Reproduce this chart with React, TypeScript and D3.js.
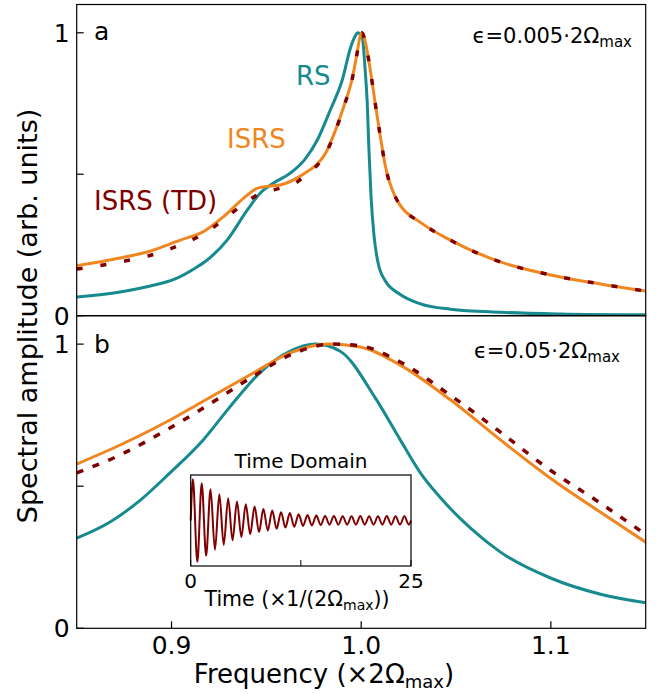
import React from 'react';
import * as d3 from 'd3';

const W = 665;
const H = 694;

// axis settings
const xDomain: [number, number] = [0.85, 1.15];
const yDomain: [number, number] = [0, 1.1];
const xTicks = [0.9, 1.0, 1.1];
const xTickLabels = ['0.9', '1.0', '1.1'];
const yTicks = [0, 0.5, 1];
const yTickLabels = ['0', '', '1'];

// Panel a (epsilon = 0.005)
const rsTopFreq = [0.85, 0.8729, 0.8887, 0.9019, 0.9124, 0.9188, 0.9293, 0.9399, 0.9467, 0.9536, 0.9626, 0.9700, 0.9768, 0.9837, 0.990, 0.9945, 0.997, 0.998, 1.0005, 1.0021, 1.0032, 1.0040, 1.0052, 1.0068, 1.0088, 1.0125, 1.0206, 1.0312, 1.047, 1.0734, 1.105, 1.15];
const rsTopAmp = [0.066, 0.084, 0.105, 0.13, 0.168, 0.197, 0.267, 0.373, 0.433, 0.468, 0.504, 0.55, 0.62, 0.727, 0.833, 0.95, 0.99, 1.0, 0.985, 0.868, 0.75, 0.6, 0.42, 0.28, 0.19, 0.125, 0.075, 0.042, 0.023, 0.012, 0.006, 0.003];

const isrsTopFreq = [0.85, 0.8729, 0.8887, 0.9046, 0.9168, 0.9274, 0.9379, 0.945, 0.9511, 0.9573, 0.9643, 0.9714, 0.9770, 0.9815, 0.9860, 0.9907, 0.9951, 0.9978, 0.9995, 1.0004, 1.0021, 1.0048, 1.0074, 1.0101, 1.0127, 1.018, 1.0206, 1.0312, 1.047, 1.0734, 1.0998, 1.1262, 1.15];
const isrsTopAmp = [0.177, 0.204, 0.228, 0.267, 0.297, 0.35, 0.415, 0.45, 0.458, 0.462, 0.48, 0.509, 0.537, 0.578, 0.648, 0.738, 0.833, 0.927, 0.99, 1.0, 0.97, 0.868, 0.75, 0.633, 0.53, 0.42, 0.39, 0.33, 0.267, 0.19, 0.144, 0.112, 0.087];

const tdTopFreq = [0.85, 0.8729, 0.8887, 0.9046, 0.9168, 0.928, 0.9395, 0.947, 0.9524, 0.958, 0.9656, 0.972, 0.9770, 0.9815, 0.9860, 0.9907, 0.9951, 0.9978, 0.9995, 1.0004, 1.0021, 1.0048, 1.0074, 1.0101, 1.0127, 1.018, 1.0206, 1.0312, 1.047, 1.0734, 1.0998, 1.1262, 1.15];
const tdTopAmp = [0.165, 0.19, 0.213, 0.25, 0.289, 0.342, 0.403, 0.432, 0.442, 0.452, 0.47, 0.505, 0.533, 0.575, 0.646, 0.736, 0.832, 0.926, 0.99, 1.0, 0.97, 0.868, 0.75, 0.633, 0.53, 0.42, 0.39, 0.33, 0.267, 0.19, 0.144, 0.112, 0.087];

// Panel b (epsilon = 0.05)
const rsBotFreq = [0.85, 0.8676, 0.8834, 0.8992, 0.9167, 0.9309, 0.9467, 0.9626, 0.9758, 0.9889, 1.0075, 1.0206, 1.0312, 1.0417, 1.0575, 1.0734, 1.0998, 1.1262, 1.15];
const rsBotAmp = [0.317, 0.374, 0.45, 0.547, 0.663, 0.78, 0.9, 0.975, 1.0, 0.975, 0.81, 0.663, 0.547, 0.46, 0.353, 0.268, 0.177, 0.12, 0.09];

const isrsBotFreq = [0.85, 0.8729, 0.8992, 0.9151, 0.9415, 0.9626, 0.9826, 0.9995, 1.0206, 1.047, 1.0734, 1.0998, 1.1262, 1.15];
const isrsBotAmp = [0.578, 0.645, 0.733, 0.793, 0.892, 0.969, 1.0, 0.99, 0.926, 0.804, 0.663, 0.528, 0.408, 0.303];

const tdBotFreq = [0.85, 0.8729, 0.8992, 0.9151, 0.9415, 0.9626, 0.985, 0.9995, 1.0206, 1.047, 1.0734, 1.0998, 1.1262, 1.15];
const tdBotAmp = [0.547, 0.61, 0.705, 0.768, 0.88, 0.962, 1.0, 0.994, 0.937, 0.82, 0.69, 0.556, 0.44, 0.33];

// Inset: time-domain signal, extrema of each half-cycle
const insetTimeDomain: [number, number] = [0, 25];
const insetValueDomain: [number, number] = [-1.1, 1.1];
const insetTicks = [0, 12.5, 25];
const insetTickLabels = ['0', '', '25'];
const insetPeriod = 1;
const insetPeaks = [1.0, 0.9, 0.755, 0.635, 0.54, 0.46, 0.39, 0.34, 0.28, 0.24, 0.2, 0.18, 0.15, 0.13, 0.12, 0.11, 0.11, 0.1, 0.1, 0.11, 0.1, 0.1, 0.11, 0.1, 0.1];
const insetTroughs = [-1.0, -0.85, -0.71, -0.59, -0.48, -0.4, -0.33, -0.28, -0.24, -0.2, -0.17, -0.15, -0.13, -0.12, -0.11, -0.1, -0.1, -0.1, -0.1, -0.1, -0.1, -0.1, -0.1, -0.1, -0.1];

// layout
const L = 76.7;
const R = 645.7;
const T1 = 4.5;
const B1 = 315.7;
const T2 = 315.7;
const B2 = 628.3;
const IL = 190.7;
const IR = 411;
const IT = 475;
const IB = 566;

const TEAL = '#178a8f';
const ORANGE = '#f0861f';
const DARKRED = '#7f0000';
const FONT = '"DejaVu Sans", sans-serif';

function zip(a: number[], b: number[]): [number, number][] {
  return a.map((v, i) => [v, b[i]]);
}

export default function App() {
  const x = d3.scaleLinear().domain(xDomain).range([L, R]);
  const yTop = d3.scaleLinear().domain(yDomain).range([B1, T1]);
  const yBot = d3.scaleLinear().domain(yDomain).range([B2, T2]);
  const mk = (ys: d3.ScaleLinear<number, number>) =>
    d3.line<[number, number]>().x(d => x(d[0])).y(d => ys(d[1])).curve(d3.curveMonotoneX);
  const lineTop = mk(yTop);
  const lineBot = mk(yBot);

  const xi = d3.scaleLinear().domain(insetTimeDomain).range([IL, IR]);
  const yi = d3.scaleLinear().domain(insetValueDomain).range([IB, IT]);
  const insetPts: [number, number][] = [[0, 0]];
  insetPeaks.forEach((p, k) => {
    insetPts.push([k * insetPeriod + 0.25 * insetPeriod, p]);
    insetPts.push([k * insetPeriod + 0.75 * insetPeriod, insetTroughs[k]]);
  });
  insetPts.push([25, 0]);
  const insetLine = d3.line<[number, number]>().x(d => xi(d[0])).y(d => yi(d[1])).curve(d3.curveMonotoneX);

  const yAxis = (ys: d3.ScaleLinear<number, number>, key: string) => (
    <g key={key}>
      {yTicks.map((t, i) => (
        <g key={i}>
          <line x1={L} x2={L + 7} y1={ys(t)} y2={ys(t)} stroke="#000" strokeWidth={1.2} />
          {yTickLabels[i] && (
            <text x={L - 7} y={ys(t)} dy="0.36em" textAnchor="end" fontSize={25} fontFamily={FONT}>{yTickLabels[i]}</text>
          )}
        </g>
      ))}
    </g>
  );

  return (
    <svg width={W} height={H} style={{ position: 'absolute', left: 0, top: 0, background: '#fff' }} fontFamily={FONT}>
      <defs>
        <clipPath id="clipTop"><rect x={L} y={T1} width={R - L} height={B1 - T1} /></clipPath>
        <clipPath id="clipBot"><rect x={L} y={T2} width={R - L} height={B2 - T2} /></clipPath>
      </defs>
      <rect x={0} y={0} width={W} height={H} fill="#fff" />

      {/* Panel a curves */}
      <g clipPath="url(#clipTop)" fill="none">
        <path d={lineTop(zip(rsTopFreq, rsTopAmp)) || ''} stroke={TEAL} strokeWidth={3} />
        <path d={lineTop(zip(isrsTopFreq, isrsTopAmp)) || ''} stroke={ORANGE} strokeWidth={3} />
        <path d={lineTop(zip(tdTopFreq, tdTopAmp)) || ''} stroke={DARKRED} strokeWidth={3.5} strokeDasharray="6 18" />
      </g>
      {/* Panel b curves */}
      <g clipPath="url(#clipBot)" fill="none">
        <path d={lineBot(zip(rsBotFreq, rsBotAmp)) || ''} stroke={TEAL} strokeWidth={3} />
        <path d={lineBot(zip(isrsBotFreq, isrsBotAmp)) || ''} stroke={ORANGE} strokeWidth={3} />
        <path d={lineBot(zip(tdBotFreq, tdBotAmp)) || ''} stroke={DARKRED} strokeWidth={3.5} strokeDasharray="7 10" />
      </g>

      {/* frames */}
      <rect x={L} y={T1} width={R - L} height={B1 - T1} fill="none" stroke="#000" strokeWidth={1.2} />
      <rect x={L} y={T2} width={R - L} height={B2 - T2} fill="none" stroke="#000" strokeWidth={1.2} />

      {yAxis(yTop, 'ya')}
      {yAxis(yBot, 'yb')}

      {xTicks.map((t, i) => (
        <g key={i}>
          <line x1={x(t)} x2={x(t)} y1={B2} y2={B2 - 7} stroke="#000" strokeWidth={1.2} />
          <text x={x(t)} y={654} textAnchor="middle" fontSize={25}>{xTickLabels[i]}</text>
        </g>
      ))}

      {/* axis labels */}
      <text x={324} y={683} textAnchor="middle" fontSize={26}>
        Frequency (×2Ω<tspan fontSize={18} dy={5}>max</tspan><tspan dy={-5}>)</tspan>
      </text>
      <text transform="translate(37,316) rotate(-90)" textAnchor="middle" fontSize={27}>Spectral amplitude (arb. units)</text>

      {/* panel letters */}
      <text x={94} y={40} fontSize={25}>a</text>
      <text x={94} y={353} fontSize={25}>b</text>

      {/* epsilon labels */}
      <text x={632} y={43} textAnchor="end" fontSize={21}>
        ϵ=0.005·2Ω<tspan fontSize={15} dy={4}>max</tspan>
      </text>
      <text x={620} y={358} textAnchor="end" fontSize={21}>
        ϵ=0.05·2Ω<tspan fontSize={15} dy={4}>max</tspan>
      </text>

      {/* curve labels */}
      <text x={296} y={85} fontSize={26} fill={TEAL}>RS</text>
      <text x={227} y={148} fontSize={26} fill={ORANGE}>ISRS</text>
      <text x={94} y={210} fontSize={26} fill={DARKRED}>ISRS (TD)</text>

      {/* inset */}
      <rect x={IL} y={IT} width={IR - IL} height={IB - IT} fill="#fff" stroke="none" />
      <path d={insetLine(insetPts) || ''} fill="none" stroke={DARKRED} strokeWidth={2} />
      <rect x={IL} y={IT} width={IR - IL} height={IB - IT} fill="none" stroke="#000" strokeWidth={1.2} />
      {insetTicks.map((t, i) => (
        <g key={i}>
          <line x1={xi(t)} x2={xi(t)} y1={IB} y2={IB - 6} stroke="#000" strokeWidth={1} />
          {insetTickLabels[i] && (
            <text x={xi(t)} y={588} textAnchor="middle" fontSize={20}>{insetTickLabels[i]}</text>
          )}
        </g>
      ))}
      <text x={301} y={468} textAnchor="middle" fontSize={20}>Time Domain</text>
      <text x={297} y={606} textAnchor="middle" fontSize={20.5}>
        Time (×1/(2Ω<tspan fontSize={14} dy={4}>max</tspan><tspan dy={-4}>))</tspan>
      </text>
    </svg>
  );
}
